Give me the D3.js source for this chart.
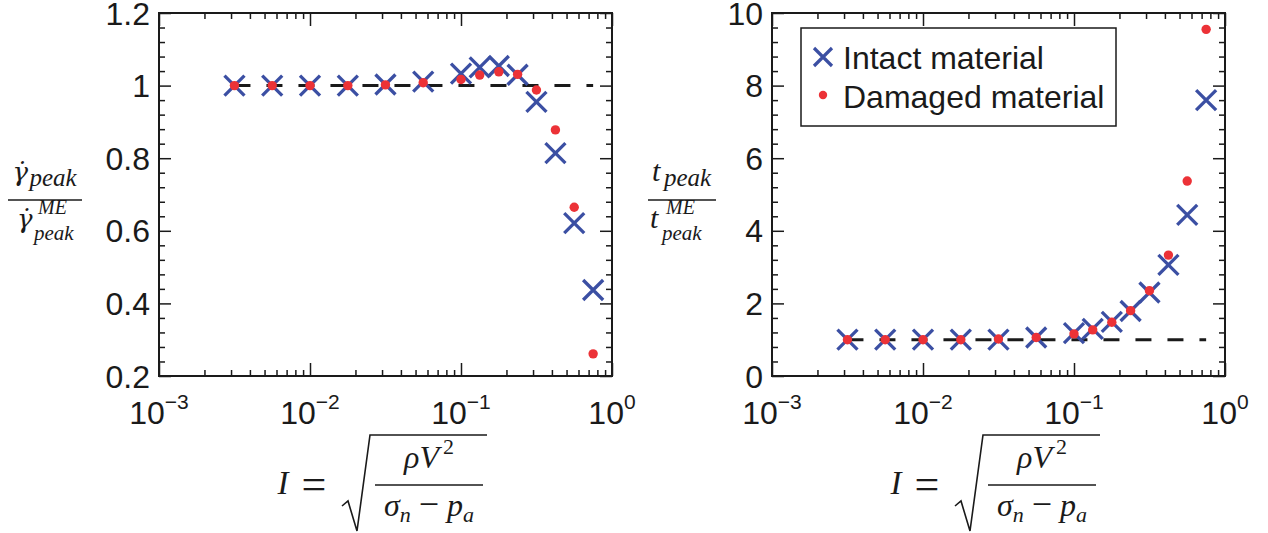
<!DOCTYPE html>
<html>
<head>
<meta charset="utf-8">
<script src="https://cdn.jsdelivr.net/npm/d3@7"></script>
<style>
	body { margin: 0; background: #fff; }
	svg { display: block; }
	.tick-label { font-family: "Liberation Sans", Arial, Helvetica, sans-serif; font-size: 32px; fill: #1a1a1a; }
	.math { font-family: "Liberation Serif", "Times New Roman", serif; font-style: italic; fill: #1a1a1a; }
	.greek { font-family: "DejaVu Serif", serif; font-style: italic; fill: #1a1a1a; }
	.upright { font-style: normal; }
</style>
</head>
<body>
<div id="chart"></div>
<script>
//Values
const inertialNumber = [0.00316, 0.00562, 0.01, 0.0178, 0.0316, 0.0562, 0.1, 0.133, 0.178, 0.237, 0.316, 0.422, 0.562, 0.75];
const rateIntact = [1.0, 1.0, 1.0, 1.0, 1.003, 1.011, 1.033, 1.05, 1.054, 1.03, 0.955, 0.814, 0.621, 0.437];
const rateDamaged = [1.0, 1.0, 1.0, 1.0, 1.002, 1.008, 1.017, 1.029, 1.038, 1.031, 0.988, 0.878, 0.665, 0.261];
const timeIntact = [1.0, 1.0, 1.0, 1.0, 1.0, 1.06, 1.18, 1.3, 1.49, 1.79, 2.3, 3.06, 4.44, 7.6];
const timeDamaged = [1.0, 1.0, 1.0, 1.0, 1.02, 1.06, 1.16, 1.27, 1.48, 1.8, 2.35, 3.33, 5.37, 9.55];

const xDecades = [1e-3, 1e-2, 1e-1, 1];
const xDecadeExp = ['\u22123', '\u22122', '\u22121', '0'];
const rateTicks = [0.2, 0.4, 0.6, 0.8, 1, 1.2];
const rateTickLabels = ['0.2', '0.4', '0.6', '0.8', '1', '1.2'];
const timeTicks = [0, 2, 4, 6, 8, 10];
const timeTickLabels = ['0', '2', '4', '6', '8', '10'];
const seriesNames = ['Intact material', 'Damaged material'];

const W = 1268, H = 533;
const blue = '#3b4fa3', red = '#ec3237', ink = '#1a1a1a';

const svg = d3.select('#chart').append('svg')
	.attr('width', W)
	.attr('height', H);

renderPanel({
	left: 159, top: 13, w: 453, h: 363,
	yDomain: [0.2, 1.2], yTicks: rateTicks, yTickLabels: rateTickLabels, yMinor: 0.04,
	intact: rateIntact, damaged: rateDamaged,
	ylabel: 'gamma', legend: false
});

renderPanel({
	left: 772, top: 13, w: 453, h: 363,
	yDomain: [0, 10], yTicks: timeTicks, yTickLabels: timeTickLabels, yMinor: 0.4,
	intact: timeIntact, damaged: timeDamaged,
	ylabel: 't', legend: true
});

function renderPanel(o){
	const g = svg.append('g').attr('transform', `translate(${o.left},${o.top})`);

	const x = d3.scaleLog().domain([1e-3, 1]).range([0, o.w]);
	const y = d3.scaleLinear().domain(o.yDomain).range([o.h, 0]);

	//Minor ticks
	const xMinor = x.ticks().filter(d => xDecades.indexOf(d) < 0);
	const yMinor = d3.range(o.yDomain[0], o.yDomain[1] + 1e-9, o.yMinor)
		.filter(d => !o.yTicks.some(t => Math.abs(t - d) < 1e-6));

	const axes = [
		[d3.axisBottom(x).tickValues(xMinor).tickSize(-6), `translate(0,${o.h})`],
		[d3.axisTop(x).tickValues(xMinor).tickSize(-6), 'translate(0,0)'],
		[d3.axisBottom(x).tickValues(xDecades).tickSize(-13), `translate(0,${o.h})`],
		[d3.axisTop(x).tickValues(xDecades).tickSize(-13), 'translate(0,0)'],
		[d3.axisLeft(y).tickValues(yMinor).tickSize(-6), 'translate(0,0)'],
		[d3.axisRight(y).tickValues(yMinor).tickSize(-6), `translate(${o.w},0)`],
		[d3.axisLeft(y).tickValues(o.yTicks).tickSize(-12), 'translate(0,0)'],
		[d3.axisRight(y).tickValues(o.yTicks).tickSize(-12), `translate(${o.w},0)`]
	];
	axes.forEach(function(a){
		const ax = g.append('g')
			.attr('transform', a[1])
			.call(a[0].tickFormat('').tickSizeOuter(0));
		ax.select('.domain').remove();
		ax.selectAll('line').attr('stroke', ink).attr('stroke-width', 1.5);
	});

	//Frame
	g.append('rect')
		.attr('width', o.w)
		.attr('height', o.h)
		.attr('fill', 'none')
		.attr('stroke', ink)
		.attr('stroke-width', 2);

	//Y tick labels
	g.selectAll('.ylab')
		.data(o.yTicks)
		.enter()
		.append('text')
		.attr('class', 'tick-label')
		.attr('x', -9)
		.attr('y', d => y(d))
		.attr('dy', '0.36em')
		.attr('text-anchor', 'end')
		.text((d, i) => o.yTickLabels[i]);

	//X tick labels 10^n
	const xl = g.selectAll('.xlab')
		.data(xDecades)
		.enter()
		.append('text')
		.attr('class', 'tick-label')
		.attr('x', d => x(d))
		.attr('y', o.h + 48)
		.attr('text-anchor', 'middle');
	xl.append('tspan').text('10');
	xl.append('tspan')
		.attr('dy', -15)
		.style('font-size', '21px')
		.text((d, i) => xDecadeExp[i]);

	//Reference line at 1
	g.append('path')
		.datum([inertialNumber[0], inertialNumber[inertialNumber.length - 1]])
		.attr('d', d3.line().x(d => x(d)).y(y(1)))
		.attr('stroke', ink)
		.attr('stroke-width', 3)
		.attr('stroke-dasharray', '16,16')
		.attr('fill', 'none');

	//Intact: crosses
	g.selectAll('.cross')
		.data(inertialNumber)
		.enter()
		.append('path')
		.attr('class', 'cross')
		.attr('transform', (d, i) => `translate(${x(d)},${y(o.intact[i])})`)
		.attr('d', 'M-10,-10L10,10M-10,10L10,-10')
		.attr('stroke', blue)
		.attr('stroke-width', 3.3)
		.attr('fill', 'none');

	//Damaged: dots
	g.selectAll('.dot')
		.data(inertialNumber)
		.enter()
		.append('circle')
		.attr('class', 'dot')
		.attr('cx', d => x(d))
		.attr('cy', (d, i) => y(o.damaged[i]))
		.attr('r', 4.7)
		.attr('fill', red);

	renderXLabel(o.left);
	if (o.ylabel === 'gamma') renderYLabel(8, 82, true);
	else renderYLabel(648, 716, false);

	if (o.legend){
		const lg = g.append('g').attr('transform', 'translate(29,15)');
		lg.append('rect')
			.attr('width', 315)
			.attr('height', 98)
			.attr('fill', '#fff')
			.attr('stroke', ink)
			.attr('stroke-width', 1.5);
		lg.append('path')
			.attr('transform', 'translate(22,29)')
			.attr('d', 'M-9,-9L9,9M-9,9L9,-9')
			.attr('stroke', blue)
			.attr('stroke-width', 3.2);
		lg.append('circle')
			.attr('cx', 22)
			.attr('cy', 67)
			.attr('r', 4.2)
			.attr('fill', red);
		lg.selectAll('.lgtext')
			.data(seriesNames)
			.enter()
			.append('text')
			.attr('class', 'tick-label')
			.style('font-size', '32px')
			.attr('x', 42)
			.attr('y', (d, i) => 41 + i * 39)
			.text(d => d);
	}
}

function renderXLabel(left){
	const g = svg.append('g').attr('transform', `translate(${left},0)`);
	g.append('text').attr('class', 'math').style('font-size', '33px')
		.attr('x', 124).attr('y', 494).attr('text-anchor', 'middle').text('I');
	g.append('text').attr('class', 'math upright').style('font-size', '44px')
		.attr('x', 155).attr('y', 499).attr('text-anchor', 'middle').text('=');
	//Radical sign
	g.append('path')
		.attr('d', 'M183,506L189,501L198,531L211,435L328,435')
		.attr('fill', 'none')
		.attr('stroke', ink)
		.attr('stroke-width', 1.6)
		.attr('stroke-linejoin', 'miter');
	//Numerator
	const num = g.append('text').attr('class', 'math').style('font-size', '32px')
		.attr('x', 270).attr('y', 468).attr('text-anchor', 'middle');
	num.append('tspan').text('\u03C1V');
	num.append('tspan').attr('class', 'upright').attr('dx', 4).attr('dy', -14).style('font-size', '22px').text('2');
	g.append('line')
		.attr('x1', 216).attr('x2', 324).attr('y1', 485).attr('y2', 485)
		.attr('stroke', ink).attr('stroke-width', 1.5);
	//Denominator
	const den = g.append('text').attr('class', 'math').style('font-size', '32px')
		.attr('x', 270).attr('y', 516).attr('text-anchor', 'middle');
	den.append('tspan').text('\u03C3');
	den.append('tspan').attr('dy', 6).style('font-size', '22px').text('n');
	den.append('tspan').attr('class', 'upright').attr('dx', 8).attr('dy', -6).style('font-size', '36px').text('\u2212');
	den.append('tspan').attr('dx', 8).text('p');
	den.append('tspan').attr('dy', 6).style('font-size', '22px').text('a');
}

function renderYLabel(x0, x1, dotted){
	const g = svg.append('g');
	//gamma with a combining dot above, or plain t
	const sym = dotted ? '\u03B3\u0307' : 't';
	const cls = dotted ? 'greek' : 'math';
	const symW = dotted ? 15 : 10;
	const cx = (x0 + x1) / 2;
	const peakW = 50;

	//Numerator
	const nx = cx - (symW + peakW) / 2;
	g.append('text').attr('class', cls).style('font-size', dotted ? '26px' : '30px')
		.attr('x', nx).attr('y', 181).text(sym);
	g.append('text').attr('class', 'math').style('font-size', '25px')
		.attr('x', nx + symW + 2).attr('y', 186).text('peak');

	g.append('line')
		.attr('x1', x0).attr('x2', x1).attr('y1', 200).attr('y2', 200)
		.attr('stroke', ink).attr('stroke-width', 1.5);

	//Denominator
	const sx = x0 + (dotted ? 9 : 2);
	g.append('text').attr('class', cls).style('font-size', dotted ? '26px' : '30px')
		.attr('x', sx).attr('y', 228).text(sym);
	g.append('text').attr('class', 'math').style('font-size', '20px')
		.attr('x', sx + symW + 6).attr('y', 214).text('ME');
	g.append('text').attr('class', 'math').style('font-size', '21px')
		.attr('x', sx + symW + 2).attr('y', 240).text('peak');
}
</script>
</body>
</html>
